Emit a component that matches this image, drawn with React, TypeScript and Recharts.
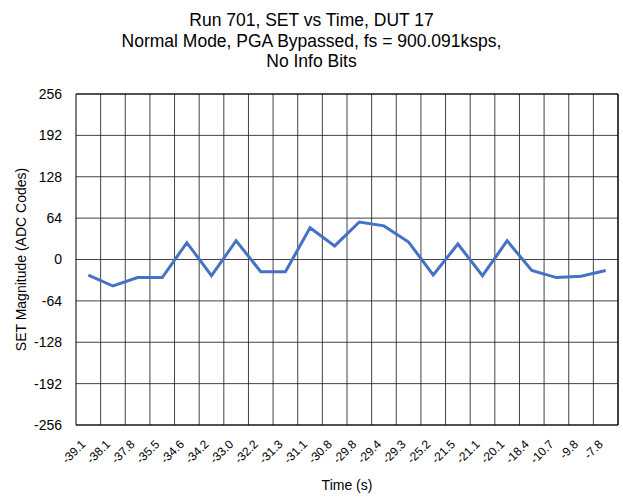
import React from "react";
import {
  LineChart,
  Line,
  XAxis,
  YAxis,
  CartesianGrid,
  ReferenceLine,
} from "recharts";

// tick labels (time, s) and SET magnitude values (ADC codes)
const times = [
  "-39.1", "-38.1", "-37.8", "-35.5", "-34.6", "-34.2", "-33.0", "-32.2",
  "-31.3", "-31.1", "-30.8", "-29.8", "-29.4", "-29.3", "-25.2", "-21.5",
  "-21.1", "-20.1", "-18.4", "-10.7", "-9.8", "-7.8",
];
const magnitudes = [
  -24, -41, -28, -28, 26, -25, 29, -19, -19, 49, 21, 58, 52, 27, -24, 24,
  -25, 29, -17, -28, -26, -17,
];
const yTicks = [-256, -192, -128, -64, 0, 64, 128, 192, 256];
const titleLines = [
  "Run 701, SET vs Time, DUT 17",
  "Normal Mode, PGA Bypassed, fs = 900.091ksps,",
  "No Info Bits",
];

// categories sit in bands between gridlines (Excel style)
const data = magnitudes.map((v, i) => ({ pos: i + 0.5, value: v }));
const xTicks = data.map((d) => d.pos);
const bandEdges = times.map((_, i) => i + 1);

const FONT = "'Liberation Sans', Arial, sans-serif";

function TimeTick(props: any) {
  const { x, y, payload } = props;
  const label = times[Math.round(payload.value - 0.5)];
  const ax = x - 2;
  const ay = y + 10;
  return (
    <text
      x={ax}
      y={ay}
      transform={`rotate(-45, ${ax}, ${ay})`}
      textAnchor="end"
      fontSize={12}
      fontFamily={FONT}
      fill="#000"
    >
      {label}
    </text>
  );
}

export default function App() {
  return (
    <div
      style={{
        position: "absolute",
        left: 0,
        top: 0,
        width: 623,
        height: 498,
        background: "#fff",
        fontFamily: FONT,
      }}
    >
      <LineChart
        width={623}
        height={498}
        data={data}
        margin={{ top: 94, right: 5, bottom: 0, left: 0 }}
        style={{ position: "absolute", left: 0, top: 0 }}
      >
        <CartesianGrid vertical={false} stroke="#222" strokeOpacity={0.85} />
        {bandEdges.map((e) => (
          <ReferenceLine
            key={e}
            x={e}
            stroke={e === 22 ? "#000" : "#222"}
            strokeWidth={e === 22 ? 1.5 : 1}
            strokeOpacity={e === 22 ? 1 : 0.85}
          />
        ))}
        <ReferenceLine y={256} stroke="#000" />
        <XAxis
          type="number"
          dataKey="pos"
          domain={[0, 22]}
          ticks={xTicks}
          interval={0}
          tick={<TimeTick />}
          tickLine={false}
          tickSize={6}
          tickMargin={4}
          axisLine={{ stroke: "#000" }}
          height={73}
          label={{
            value: "Time (s)",
            position: "insideBottom",
            offset: 8,
            fontSize: 14,
            fill: "#000",
            fontFamily: FONT,
          }}
        />
        <YAxis
          type="number"
          domain={[-256, 256]}
          ticks={yTicks}
          interval={0}
          width={76}
          tickLine={false}
          tickSize={6}
          tickMargin={8}
          axisLine={{ stroke: "#000" }}
          tick={{ fontSize: 14, fill: "#000", fontFamily: FONT }}
          label={{
            value: "SET Magnitude (ADC Codes)",
            angle: -90,
            position: "insideLeft",
            offset: 21,
            style: { textAnchor: "middle" },
            fontSize: 14,
            fill: "#000",
            fontFamily: FONT,
          }}
        />
        <Line
          type="linear"
          dataKey="value"
          stroke="#4472C4"
          strokeWidth={3}
          dot={false}
          isAnimationActive={false}
        />
      </LineChart>
      <div
        style={{
          position: "absolute",
          left: 0,
          top: 10,
          width: 623,
          textAlign: "center",
          fontSize: 17.5,
          lineHeight: "20.5px",
          color: "#000",
        }}
      >
        {titleLines.map((t) => (
          <div key={t}>{t}</div>
        ))}
      </div>
    </div>
  );
}
